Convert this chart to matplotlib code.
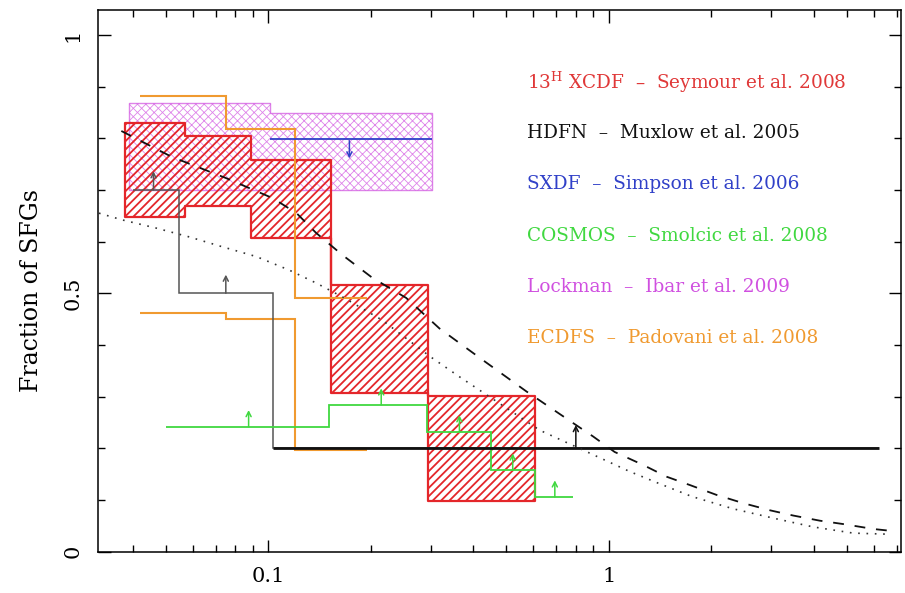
import numpy as np
import matplotlib
matplotlib.use("Agg")
import matplotlib.pyplot as plt
from matplotlib.ticker import LogLocator, NullFormatter, MultipleLocator

# 13H XCDF - Seymour et al. 2008 (hatched boxes)
seym_edges = [0.038, 0.057, 0.089, 0.153, 0.294, 0.606]
seym_hi = [0.829, 0.805, 0.758, 0.516, 0.302]
seym_lo = [0.648, 0.668, 0.607, 0.307, 0.099]

# Lockman - Ibar et al. 2009 (cross hatched)
ibar_edges = [0.039, 0.101, 0.303]
ibar_hi = [0.869, 0.848]
ibar_lo = [0.700, 0.700]

# SXDF - Simpson et al. 2006 (upper limit)
sxdf_edges = [0.101, 0.303]
sxdf_val = 0.799
sxdf_arrow_x = [0.173]

# HDFN - Muxlow et al. 2005 (lower limits)
hdfn_edges = [0.040, 0.0547, 0.103, 6.2]
hdfn_vals = [0.70, 0.50, 0.20]
hdfn_arrow_x = [0.046, 0.075, 0.80]
hdfn_arrow_y = [0.70, 0.50, 0.20]

# COSMOS - Smolcic et al. 2008 (lower limits)
cosmos_edges = [0.050, 0.151, 0.292, 0.452, 0.606, 0.785]
cosmos_vals = [0.242, 0.284, 0.232, 0.158, 0.106]
cosmos_arrow_x = [0.0875, 0.2145, 0.364, 0.522, 0.694]
cosmos_arrow_y = [0.242, 0.284, 0.232, 0.158, 0.106]

# ECDFS - Padovani et al. 2008 (upper / lower bounds)
ecdfs_edges = [0.042, 0.075, 0.120, 0.195]
ecdfs_hi = [0.881, 0.817, 0.490]
ecdfs_lo = [0.461, 0.450, 0.197]

# model curves
dash_x = [0.037, 0.052, 0.075, 0.103, 0.121, 0.138, 0.165, 0.202, 0.254, 0.318,
          0.426, 0.573, 0.785, 0.899, 1.04, 1.26, 1.48, 1.73, 2.07, 2.48,
          2.98, 3.48, 4.17, 4.94, 5.98, 6.6]
dash_y = [0.814, 0.764, 0.723, 0.684, 0.655, 0.617, 0.574, 0.530, 0.491, 0.432,
          0.371, 0.310, 0.249, 0.223, 0.193, 0.168, 0.145, 0.129, 0.110, 0.094,
          0.080, 0.070, 0.060, 0.053, 0.044, 0.041]
dot_x = [0.0318, 0.0372, 0.0469, 0.0586, 0.0732, 0.0922, 0.115, 0.138, 0.165, 0.216,
         0.298, 0.365, 0.627, 0.838, 1.153, 1.38, 1.75, 2.32, 3.04, 3.98,
         5.22, 6.57]
dot_y = [0.655, 0.642, 0.626, 0.609, 0.590, 0.571, 0.545, 0.520, 0.493, 0.448,
         0.378, 0.338, 0.235, 0.197, 0.155, 0.134, 0.107, 0.083, 0.065, 0.048,
         0.036, 0.034]

labels = ["13$^{\\rm H}$ XCDF  \u2013  Seymour et al. 2008",
          "HDFN  \u2013  Muxlow et al. 2005",
          "SXDF  \u2013  Simpson et al. 2006",
          "COSMOS  \u2013  Smolcic et al. 2008",
          "Lockman  \u2013  Ibar et al. 2009",
          "ECDFS  \u2013  Padovani et al. 2008"]

RED = "#e4262a"
BLACK = "#111111"
BLUE = "#3040c8"
GREEN = "#40d840"
MAGENTA = "#d050e0"
ORANGE = "#f09a30"
GREY = "#555555"
label_colors = ["#e03838", BLACK, BLUE, GREEN, MAGENTA, ORANGE]

plt.rcParams["font.family"] = ["DejaVu Serif"]
plt.rcParams["mathtext.fontset"] = "dejavuserif"

fig = plt.figure(figsize=(9.05, 5.93), dpi=100)
ax = fig.add_axes([0.1083, 0.0696, 0.887, 0.9135])
ax.set_xscale("log")


def rep(v):
    return np.append(v, v[-1])


def up_arrows(xs, ys, color, length=0.036, sign=1):
    for x, y in zip(xs, ys):
        ax.annotate("", xy=(x, y + sign * length), xytext=(x, y),
                    arrowprops=dict(arrowstyle="->,head_length=0.35,head_width=0.18",
                                    color=color, lw=1.1, shrinkA=0, shrinkB=0))


# Lockman cross hatched region
plt.rcParams["hatch.linewidth"] = 0.6
ax.fill_between(ibar_edges, rep(ibar_lo), rep(ibar_hi), step="post",
                facecolor="none", edgecolor=MAGENTA, hatch="xxxx", lw=1.0, alpha=0.7)

# Seymour hatched boxes
plt.rcParams["hatch.linewidth"] = 1.3
ax.fill_between(seym_edges, rep(seym_lo), rep(seym_hi), step="post",
                facecolor="none", edgecolor=RED, hatch="////", lw=1.6)

# SXDF upper limit
ax.hlines(sxdf_val, sxdf_edges[0], sxdf_edges[1], color=BLUE, lw=1.3)
up_arrows(sxdf_arrow_x, [sxdf_val - 0.004], BLUE, length=0.034, sign=-1)

# ECDFS bounds
ax.stairs(ecdfs_hi, ecdfs_edges, baseline=None, color=ORANGE, lw=1.5)
ax.stairs(ecdfs_lo, ecdfs_edges, baseline=None, color=ORANGE, lw=1.5)

# HDFN
ax.stairs(hdfn_vals, hdfn_edges, baseline=None, color=GREY, lw=1.1)
ax.hlines(hdfn_vals[-1], hdfn_edges[-2], hdfn_edges[-1], color=BLACK, lw=2.0)
up_arrows(hdfn_arrow_x[:2], hdfn_arrow_y[:2], GREY)
up_arrows(hdfn_arrow_x[2:], hdfn_arrow_y[2:], BLACK, length=0.045)

# COSMOS
ax.stairs(cosmos_vals, cosmos_edges, baseline=None, color=GREEN, lw=1.3)
up_arrows(cosmos_arrow_x, cosmos_arrow_y, GREEN, length=0.032)

# curves
ax.plot(dash_x, dash_y, color=BLACK, lw=1.3, ls=(0, (6, 6)))
ax.plot(dot_x, dot_y, color="#333333", lw=1.2, ls=(0, (1, 4)))

# legend text
for i, (lab, col) in enumerate(zip(labels, label_colors)):
    ax.text(0.534, 0.867 - 0.0945 * i, lab, color=col, fontsize=13.3,
            transform=ax.transAxes, ha="left", va="center")

ax.set_xlim(0.0316, 7.2)
ax.set_ylim(0, 1.048)

ax.set_xticks([0.1, 1])
ax.set_xticklabels(["0.1", "1"])
ax.xaxis.set_minor_locator(LogLocator(base=10, subs=np.arange(2, 10)))
ax.xaxis.set_minor_formatter(NullFormatter())
ax.set_yticks([0, 0.5, 1])
ax.set_yticklabels(["0", "0.5", "1"], rotation=90, va="center")
ax.yaxis.set_minor_locator(MultipleLocator(0.1))

ax.tick_params(which="both", direction="in", top=True, right=True,
               width=1.0, labelsize=15)
ax.tick_params(which="major", length=9)
ax.tick_params(which="minor", length=5)
ax.tick_params(axis="x", pad=11)
ax.tick_params(axis="y", pad=11)
for s in ax.spines.values():
    s.set_linewidth(1.1)

ax.set_ylabel("Fraction of SFGs", fontsize=17)
ax.yaxis.set_label_coords(-0.068, 0.483)

fig.savefig("out.png", dpi=100)
